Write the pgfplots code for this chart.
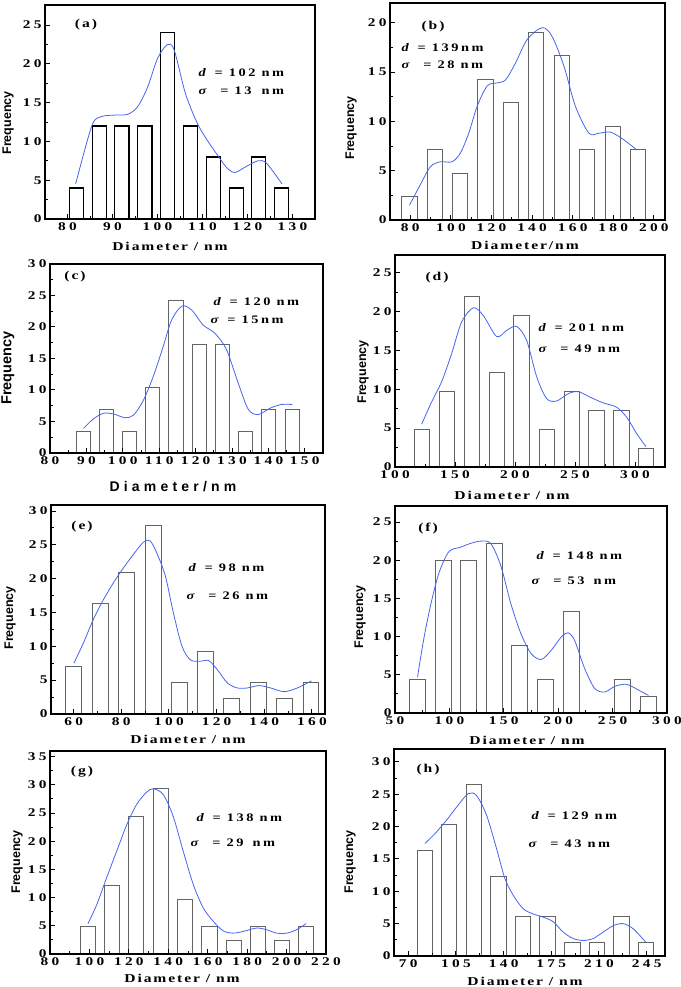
\documentclass[border=0pt]{standalone}
\usepackage{fontspec}
\setmainfont{Liberation Serif}
\usepackage{pgfplots}
\pgfplotsset{compat=1.18}
\newfontfamily\tickfam[LetterSpace=28, FakeStretch=1.3]{Liberation Serif}
\newfontfamily\labfam[LetterSpace=16, FakeStretch=1.3]{Liberation Serif}
\newfontfamily\annfam[LetterSpace=22, FakeStretch=1.25]{Liberation Serif}
\newfontfamily\sansfam{Liberation Sans}
\newfontfamily\sanslab[LetterSpace=30]{Liberation Sans}
\definecolor{curveblue}{RGB}{70,100,240}
\definecolor{bargray}{RGB}{100,100,100}
\newcommand\tickfont{\tickfam\bfseries\fontsize{11.8}{14}\selectfont}
\newcommand\labfont{\labfam\bfseries\fontsize{12}{14}\selectfont}
\newcommand\annfont{\annfam\bfseries\fontsize{11.5}{14}\selectfont}
\newcommand\freqfont{\sansfam\bfseries\fontsize{12.5}{14}\selectfont}

\pgfplotsset{
  panel/.style={scale only axis, anchor=south west,
    axis line style={line width=1.6pt},
    every tick/.style={black, line width=1pt},
    major tick length=5pt, minor tick length=3pt, tick align=inside,
    xtick pos=left, ytick pos=left,
    minor x tick num=1, minor y tick num=1, ymin=0,
    tick label style={font=\tickfont},
    /pgf/number format/assume math mode=true,
    axis on top, clip=true},
  bars/.style={ybar, fill=white, draw=bargray, line width=0.9pt},
  fit/.style={smooth, color=curveblue, line width=0.8pt},
}

\begin{document}
\begin{tikzpicture}
\useasboundingbox (0,0) rectangle (680pt,987pt);

% (a)
\begin{axis}[panel, at={(45pt,768pt)}, width=270pt, height=214pt,
  xmin=75, xmax=135, ymax=27.6, xtick={80,90,...,130}, ytick={0,5,...,25}]
\addplot[bars, draw=black, line width=1.2pt, bar width=3.15] coordinates {
  (82.0,4) (87.1,12) (92.1,12) (97.2,12) (102.2,24) (107.4,12) (112.4,8) (117.5,4) (122.5,8) (127.6,4)};
\addplot[fit] coordinates {
  (81.8,4.5) (85.4,12) (87.5,13.2) (90.5,13.4) (93.4,13.5) (95.6,14.5) (97.8,17) (100,20.7) (102.2,22.5)
  (103.7,21.8) (106.2,16.2) (108.8,12.4) (111,10.2) (113.5,8.1) (115.4,6.6) (117.2,6.0) (119.8,6.8)
  (122.3,7.5) (124.2,7.2) (127.7,4.5)};
\end{axis}

% (b)
\begin{axis}[panel, at={(390pt,767pt)}, width=275pt, height=217pt,
  xmin=70, xmax=205.5, ymax=22, xtick={80,100,...,200}, ytick={0,5,...,20}]
\addplot[bars, bar width=7.5] coordinates {
  (79.6,2.38) (92,7.14) (104.5,4.76) (117,14.29) (129.6,11.90) (142,19.05) (154.6,16.67) (167,7.14) (179.7,9.52) (192,7.14)};
\addplot[fit] coordinates {
  (79.6,1.5) (85,3.6) (89.9,5.4) (94.8,5.9) (100.6,5.9) (104.7,6.8) (108.8,8.8) (112.9,11.5) (117.9,13.6)
  (122.8,13.9) (126.9,14.2) (131.8,15.9) (137.6,18.3) (145,19.5) (149.9,18.6) (155.7,15.6) (161.4,11.5)
  (168,8.8) (173,8.8) (178.8,8.9) (185.4,8.1) (191.6,7.1)};
\end{axis}

% (c)
\begin{axis}[panel, at={(50pt,534pt)}, width=273pt, height=189pt,
  xmin=80, xmax=155, ymax=30, xtick={80,90,...,150}, ytick={0,5,...,30}]
\addplot[bars, bar width=3.85] coordinates {
  (89.2,3.45) (95.5,6.90) (101.9,3.45) (108.2,10.34) (114.6,24.14) (121,17.24) (127.4,17.24) (133.8,3.45) (140.1,6.90) (146.5,6.90)};
\addplot[fit] coordinates {
  (89.2,3.9) (91.9,5.4) (94.7,6.3) (97.4,6.2) (100.6,5.6) (102.9,6.0) (105.6,8.3) (108.4,12.2) (111.1,16.9)
  (113.4,21.1) (116.2,23.3) (118.9,22.7) (122.1,20.3) (125.3,19.0) (128.5,16.4) (131.7,11.1) (134.5,6.9)
  (137.2,6.1) (140.4,7.1) (143.6,7.7) (146.6,7.7)};
\end{axis}

% (d)
\begin{axis}[panel, at={(395pt,520pt)}, width=270pt, height=212pt,
  xmin=100, xmax=325, ymax=27.3, xtick={100,150,...,300}, ytick={0,5,...,25}]
\addplot[bars, bar width=12.8] coordinates {
  (122.2,4.88) (143.3,9.76) (164.2,21.95) (184.7,12.20) (205.5,19.51) (226.4,4.88) (247.2,9.76) (267.8,7.32) (288.6,7.32) (309.2,2.44)};
\addplot[fit] coordinates {
  (122.2,5.5) (130.6,8.4) (138.9,11.0) (147.2,14.6) (155.6,18.7) (165.3,20.5) (173.6,19.5) (184.7,16.8)
  (193.1,17.6) (201.4,18.1) (209.7,16.3) (218.1,11.6) (226.4,8.8) (234.7,8.5) (244.4,9.45) (252.8,9.7)
  (262.5,9.0) (273.6,8.25) (284.7,7.7) (293.1,6.4) (301.4,4.3) (309.2,2.6)};
\end{axis}

% (e)
\begin{axis}[panel, at={(51pt,273pt)}, width=274pt, height=209pt,
  xmin=50.5, xmax=165.5, ymax=30.9, xtick={60,80,...,160}, ytick={0,5,...,30}]
\addplot[bars, bar width=6.7] coordinates {
  (60.1,6.98) (71.2,16.28) (82.2,20.93) (93.3,27.91) (104.3,4.65) (115.4,9.30) (126.4,2.33) (137.5,4.65) (148.5,2.33) (159.6,4.65)};
\addplot[fit] coordinates {
  (60.1,7.5) (64.1,10.5) (68.3,14.0) (72.5,16.9) (76.7,19.4) (80.9,21.6) (85.1,23.6) (89.3,25.4) (92.1,25.6)
  (94.9,23.8) (98.5,20.4) (101.9,14.9) (105.5,10.0) (109,8.0) (113.2,7.8) (116.7,7.9) (120.2,6.6)
  (124.5,4.6) (128.7,3.85) (132.9,3.85) (137.8,4.2) (142.7,3.85) (148.3,3.3) (153.9,3.85) (159.8,4.9)};
\end{axis}

% (f)
\begin{axis}[panel, at={(395pt,274pt)}, width=272pt, height=207pt,
  xmin=50, xmax=300, ymax=27.1, xtick={50,100,...,300}, ytick={0,5,...,25}]
\addplot[bars, bar width=14.5] coordinates {
  (70.5,4.44) (94.3,20.0) (117.7,20.0) (141.4,22.22) (164.7,8.89) (188.4,4.44) (212,13.33) (259.3,4.44) (282.7,2.22)};
\addplot[fit] coordinates {
  (70.7,4.7) (76.2,9.5) (82.4,13.9) (90.1,18.2) (99.4,21.1) (110.2,21.7) (119.4,22.2) (128.7,22.5) (137.9,22.2)
  (147.2,19.3) (156.5,14.3) (165.7,10.4) (175,7.8) (184.3,7.0) (193.5,8.2) (202.8,9.95) (209,10.5)
  (215.1,9.5) (224.4,5.8) (233.6,3.2) (242.9,2.75) (252.2,3.5) (263,3.75) (273.8,3.0) (283,2.3)};
\end{axis}

% (g)
\begin{axis}[panel, at={(50pt,33pt)}, width=276pt, height=203pt,
  xmin=80, xmax=220, ymax=36, xtick={80,100,...,220}, ytick={0,5,...,35}]
\addplot[bars, bar width=7.7] coordinates {
  (99.4,4.88) (111.5,12.20) (123.8,24.39) (136.1,29.27) (148.5,9.76) (160.9,4.88) (173.2,2.44) (185.5,4.88) (197.7,2.44) (209.9,4.88)};
\addplot[fit] coordinates {
  (99.3,5.4) (103.7,8.75) (108.7,13.5) (113.8,18.2) (118.9,22.9) (123.9,26.5) (129,28.7) (132.4,29.3)
  (137.4,28.3) (142.5,24.4) (147.6,18.2) (152.7,12.3) (157.7,8.2) (162.8,5.8) (167.9,4.1) (172.9,3.7)
  (178,4.0) (184.8,4.6) (189.9,4.3) (194.9,3.7) (200,3.7) (205.1,4.3) (209.9,5.4)};
\end{axis}

% (h)
\begin{axis}[panel, at={(394pt,31pt)}, width=271pt, height=207pt,
  xmin=59.5, xmax=258.5, ymax=32, xtick={70,105,...,245}, ytick={0,5,...,30}]
\addplot[bars, bar width=11.3] coordinates {
  (82.2,16.33) (100,20.41) (118,26.53) (136.3,12.24) (154.2,6.12) (172.3,6.12) (190.4,2.04) (208.5,2.04) (226.6,6.12) (244.5,2.04)};
\addplot[fit] coordinates {
  (82.2,17.4) (89.5,18.9) (98.1,21.0) (105.4,23.0) (114,25.1) (120.1,24.8) (127.4,21.8) (134.8,16.6)
  (140.9,12.0) (147,9.4) (154.4,7.3) (161.7,6.5) (169.1,6.0) (176.4,5.3) (183.7,3.7) (191.1,2.7)
  (198.5,2.4) (205.8,2.7) (213.1,3.7) (220.5,4.7) (227.8,5.0) (235.2,4.2) (244.5,2.1)};
\end{axis}

% y labels
\foreach \x/\y in {8/864, 351/859, 363/615, 10/369, 360/370, 17/125, 350/125}
  \node[rotate=90, font=\freqfont] at (\x pt,\y pt) {Frequency};
\node[rotate=90, font=\sansfam\bfseries\fontsize{14.5}{16}\selectfont] at (8pt,619pt) {Frequency};

% x labels
\node[font=\labfont] at (170pt,741pt) {Diameter / nm};
\node[font=\labfont] at (525pt,742pt) {Diameter/nm};
\node[font=\sanslab\bfseries\fontsize{14}{16}\selectfont] at (173pt,500pt) {Diameter/nm};
\node[font=\labfont] at (512pt,492pt) {Diameter / nm};
\node[font=\labfont] at (188pt,248pt) {Diameter / nm};
\node[font=\labfont] at (527pt,247pt) {Diameter / nm};
\node[font=\labfont] at (182pt,9pt) {Diameter / nm};
\node[font=\labfont] at (525pt,6pt) {Diameter / nm};

% panel letters
\node[font=\labfont] at (86pt,962pt) {(a)};
\node[font=\labfont] at (433pt,960pt) {(b)};
\node[font=\labfont] at (75pt,710pt) {(c)};
\node[font=\labfont] at (437pt,709pt) {(d)};
\node[font=\labfont] at (82pt,460pt) {(e)};
\node[font=\labfont] at (428pt,458pt) {(f)};
\node[font=\labfont] at (82pt,215pt) {(g)};
\node[font=\labfont] at (428pt,217pt) {(h)};

% annotations
\node[anchor=west, font=\annfont] at (195pt,914pt) {\textit{d} = 102 nm};
\node[anchor=west, font=\annfont] at (195pt,896pt) {\textit{σ}\hspace{5pt} = 13\hspace{4pt} nm};
\node[anchor=west, font=\annfont] at (398pt,939pt) {\textit{d} = 139nm};
\node[anchor=west, font=\annfont] at (398pt,922pt) {\textit{σ}\hspace{5pt} = 28 nm};
\node[anchor=west, font=\annfont] at (210pt,685pt) {\textit{d} = 120 nm};
\node[anchor=west, font=\annfont] at (207pt,667pt) {\textit{σ} = 15nm};
\node[anchor=west, font=\annfont] at (535pt,659pt) {\textit{d} = 201 nm};
\node[anchor=west, font=\annfont] at (535pt,638pt) {\textit{σ}\hspace{5pt} = 49 nm};
\node[anchor=west, font=\annfont] at (185pt,419pt) {\textit{d} = 98 nm};
\node[anchor=west, font=\annfont] at (183pt,391pt) {\textit{σ}\hspace{5pt} = 26 nm};
\node[anchor=west, font=\annfont] at (533pt,431pt) {\textit{d} = 148 nm};
\node[anchor=west, font=\annfont] at (528pt,406pt) {\textit{σ}\hspace{5pt} = 53\hspace{3pt} nm};
\node[anchor=west, font=\annfont] at (193pt,169pt) {\textit{d} = 138 nm};
\node[anchor=west, font=\annfont] at (187pt,144pt) {\textit{σ}\hspace{5pt} = 29\hspace{3pt} nm};
\node[anchor=west, font=\annfont] at (528pt,171pt) {\textit{d} = 129 nm};
\node[anchor=west, font=\annfont] at (525pt,143pt) {\textit{σ}\hspace{5pt} = 43 nm};
\end{tikzpicture}
\end{document}
